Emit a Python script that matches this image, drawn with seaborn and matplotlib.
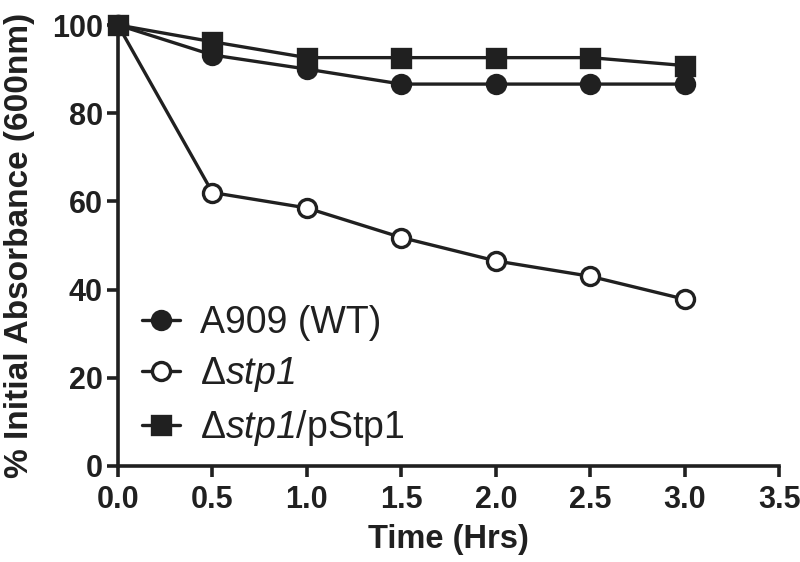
import matplotlib
matplotlib.use("Agg")
import matplotlib.pyplot as plt
import seaborn as sns
import pandas as pd

# data
time_hrs = [0.0, 0.5, 1.0, 1.5, 2.0, 2.5, 3.0]
wt = [100.0, 93.2, 90.0, 86.6, 86.6, 86.6, 86.6]
stp1 = [100.0, 62.0, 58.5, 51.8, 46.5, 43.0, 37.8]
stp1_comp = [100.0, 96.2, 92.6, 92.6, 92.6, 92.6, 90.8]

# mathrm is mapped to the italic face below, so "stp1" comes out fully italic
labels = ["A909 (WT)", "Δ$\\mathrm{stp1}$", "Δ$\\mathrm{stp1}$/pStp1"]
x_ticks = [0.0, 0.5, 1.0, 1.5, 2.0, 2.5, 3.0, 3.5]
y_ticks = [0, 20, 40, 60, 80, 100]

df = pd.DataFrame({"Time": time_hrs * 3,
                   "Abs": wt + stp1 + stp1_comp,
                   "Strain": [labels[0]] * 7 + [labels[1]] * 7 + [labels[2]] * 7})

sns.set_theme(style="ticks")
plt.rcParams['font.family'] = ['Liberation Sans', 'DejaVu Sans']
plt.rcParams['mathtext.fontset'] = 'custom'
plt.rcParams['mathtext.rm'] = 'Liberation Sans:italic'
plt.rcParams['mathtext.it'] = 'Liberation Sans:italic'

fig = plt.figure(figsize=(8, 5.62), dpi=100)
ax = fig.add_axes([0.1475, 0.171, 0.8265, 0.7845])

ink = "#202020"
# WT sits on top at t=0 in the original
styles = {
    labels[0]: dict(marker="o", markerfacecolor=ink, zorder=5),
    labels[1]: dict(marker="o", markerfacecolor="white", zorder=3),
    labels[2]: dict(marker="s", markerfacecolor=ink, zorder=4),
}
for lab in labels:
    sub = df[df["Strain"] == lab]
    sns.lineplot(data=sub, x="Time", y="Abs", ax=ax, color=ink, linewidth=2.4,
                 markersize=13, markeredgecolor=ink, markeredgewidth=2.4,
                 label=lab, clip_on=False, **styles[lab])

ax.set_xlim(0, 3.5)
ax.set_ylim(0, 100)
ax.set_xticks(x_ticks)
ax.set_xticklabels([f"{t:.1f}" for t in x_ticks])
ax.set_yticks(y_ticks)
ax.set_yticklabels([str(t) for t in y_ticks])

for s in ["top", "right"]:
    ax.spines[s].set_visible(False)
for s in ["left", "bottom"]:
    ax.spines[s].set_linewidth(2.6)
    ax.spines[s].set_color(ink)
ax.tick_params(axis="both", length=8, width=2.6, color=ink, labelsize=22,
               labelcolor=ink)
ax.tick_params(axis="x", pad=6)
ax.tick_params(axis="y", pad=3)
for t in ax.get_xticklabels() + ax.get_yticklabels():
    t.set_fontweight("bold")

ax.set_xlabel("Time (Hrs)", fontsize=23.5, fontweight="bold", color=ink, labelpad=6)
ax.set_ylabel("% Initial Absorbance (600nm)", fontsize=24, fontweight="bold",
              color=ink, labelpad=12)

leg = ax.legend(loc="center left", bbox_to_anchor=(0.0, 0.203), frameon=False,
                fontsize=27, handlelength=1.0, handletextpad=0.55,
                labelspacing=0.38, borderaxespad=0.25)
for t in leg.get_texts():
    t.set_color(ink)

plt.savefig("out.png", dpi=100)
